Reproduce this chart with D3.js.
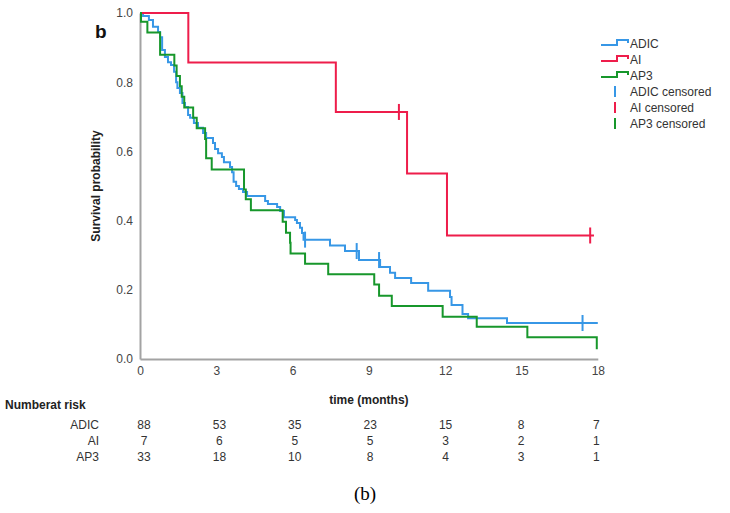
<!DOCTYPE html>
<html>
<head>
<meta charset="utf-8">
<script src="https://cdn.jsdelivr.net/npm/d3@7"></script>
<style>
  html, body { margin: 0; padding: 0; background: #fff; }
  svg { display: block; font-family: "Liberation Sans", Arial, sans-serif; }
</style>
</head>
<body>
<svg id="chart" width="730" height="513"></svg>
<script>
// ---------- data ----------
const groups = ["ADIC", "AI", "AP3"];
const groupColors = ["#3797e6", "#ee1d4b", "#17972b"];

// step points: [time (months), survival after the event]
const adicSteps = [[0,1],[0.12,0.991],[0.35,0.98],[0.51,0.96],[0.71,0.945],[0.79,0.93],[0.87,0.893],[0.98,0.873],
  [1.10,0.858],[1.22,0.85],[1.34,0.83],[1.42,0.80],[1.47,0.783],[1.57,0.769],[1.67,0.74],[1.77,0.728],[1.89,0.705],
  [1.97,0.697],[2.12,0.682],[2.28,0.668],[2.48,0.653],[2.60,0.639],[2.87,0.624],[2.95,0.607],[3.07,0.595],[3.22,0.584],
  [3.30,0.569],[3.54,0.555],[3.62,0.54],[3.68,0.512],[3.78,0.50],[3.89,0.491],[4.05,0.483],[4.21,0.471],[4.92,0.457],
  [5.03,0.448],[5.39,0.439],[5.51,0.428],[5.66,0.41],[6.10,0.402],[6.17,0.393],[6.29,0.379],[6.37,0.364],[6.43,0.345],
  [7.47,0.328],[8.06,0.312],[8.61,0.286],[9.44,0.266],[9.83,0.249],[10.03,0.234],[10.66,0.22],[11.33,0.197],
  [12.19,0.179],[12.25,0.156],[12.68,0.13],[12.9,0.118],[14.43,0.104],[18,0.104]];
const aiSteps = [[0,1],[1.9,0.857],[7.7,0.714],[10.5,0.536],[12.07,0.357],[17.85,0.357]];
const ap3Steps = [[0,1],[0.04,0.975],[0.29,0.944],[0.79,0.879],[1.35,0.848],[1.44,0.818],[1.57,0.788],[1.64,0.758],
  [1.74,0.727],[2.09,0.697],[2.23,0.667],[2.56,0.636],[2.60,0.58],[2.82,0.548],[4.09,0.49],[4.16,0.462],[4.36,0.43],
  [5.61,0.397],[5.74,0.365],[5.90,0.336],[5.92,0.305],[6.49,0.275],[7.40,0.245],[9.21,0.215],[9.40,0.183],[9.90,0.153],
  [11.9,0.122],[13.24,0.093],[15.23,0.063],[17.96,0.031],[18,0.031]];

// censored observations: [time, survival]
const adicCensored = [[6.49,0.345],[8.52,0.312],[9.40,0.286],[17.4,0.104]];
const aiCensored = [[10.18,0.714],[17.7,0.357]];
const ap3Censored = [];

const xTicks = [0,3,6,9,12,15,18];
const yTicks = [0,0.2,0.4,0.6,0.8,1.0];

const riskLabels = ["ADIC","AI","AP3"];
const riskADIC = [88,53,35,23,15,8,7];
const riskAI = [7,6,5,5,3,2,1];
const riskAP3 = [33,18,10,8,4,3,1];

const legendLabels = ["ADIC","AI","AP3","ADIC censored","AI censored","AP3 censored"];

// ---------- drawing ----------
const svg = d3.select("#chart");
const x = d3.scaleLinear().domain([0,18]).range([140, 597.8]);
const y = d3.scaleLinear().domain([0,1]).range([359, 13]);

const axisColor = "#a3a3a3";
const tickColor = "#444";

// axes
const yAxis = svg.append("g").attr("transform", `translate(${x(0)},0)`)
  .call(d3.axisLeft(y).tickValues(yTicks).tickSize(0).tickPadding(7).tickFormat(d3.format(".1f")));
const xAxis = svg.append("g").attr("transform", `translate(0,${y(0)})`)
  .call(d3.axisBottom(x).tickValues(xTicks).tickSize(0).tickPadding(7).tickFormat(d3.format("d")));
[yAxis, xAxis].forEach(g => {
  g.select(".domain").attr("stroke", axisColor).attr("stroke-width", 2);
  g.selectAll("text").attr("fill", tickColor).style("font-size", "12px")
    .style("font-family", "'Liberation Sans', Arial, sans-serif");
});

// axis titles
svg.append("text").attr("transform", `translate(100,${y(0.5)}) rotate(-90)`)
  .attr("text-anchor", "middle").attr("font-weight", "bold").attr("font-size", 12).attr("fill", "#222")
  .text("Survival probability");
svg.append("text").attr("x", x(9)).attr("y", 404).attr("text-anchor", "middle")
  .attr("font-weight", "bold").attr("font-size", 12).attr("fill", "#222").text("time (months)");

svg.append("text").attr("x", 95).attr("y", 38).attr("font-weight", "bold").attr("font-size", 19)
  .attr("fill", "#111").text("b");

// curves
const line = d3.line().x(d => x(d[0])).y(d => y(d[1])).curve(d3.curveStepAfter);
const stepSets = [adicSteps, aiSteps, ap3Steps];
const censSets = [adicCensored, aiCensored, ap3Censored];
stepSets.forEach((s, i) => {
  svg.append("path").datum(s).attr("d", line).attr("fill", "none")
    .attr("stroke", groupColors[i]).attr("stroke-width", 2).attr("stroke-linejoin", "miter");
});
censSets.forEach((c, i) => {
  svg.append("g").selectAll("line").data(c).join("line")
    .attr("x1", d => x(d[0])).attr("x2", d => x(d[0]))
    .attr("y1", d => y(d[1]) - 8).attr("y2", d => y(d[1]) + 8)
    .attr("stroke", groupColors[i]).attr("stroke-width", 2);
});

// legend
const lg = svg.append("g");
const legY0 = 43, legDy = 16;
legendLabels.forEach((lab, i) => {
  const cy = legY0 + i * legDy;
  const col = groupColors[i % 3];
  if (i < 3) {
    lg.append("path")
      .attr("d", `M601,${cy+2} H617 V${cy-3} H628 V${cy}`)
      .attr("fill", "none").attr("stroke", col).attr("stroke-width", 2);
  } else {
    lg.append("line").attr("x1", 615).attr("x2", 615).attr("y1", cy - 5).attr("y2", cy + 6)
      .attr("stroke", col).attr("stroke-width", 2);
  }
  lg.append("text").attr("x", 630).attr("y", cy + 4.5).attr("font-size", 12).attr("fill", "#333").text(lab);
});

// number at risk table
svg.append("text").attr("x", 5).attr("y", 409).attr("font-weight", "bold").attr("font-size", 12)
  .attr("fill", "#222").text("Numberat risk");
const riskRows = [riskADIC, riskAI, riskAP3];
const rowY = [429, 445, 461];
riskRows.forEach((row, r) => {
  svg.append("text").attr("x", 99).attr("y", rowY[r]).attr("text-anchor", "end")
    .attr("font-size", 12).attr("fill", "#333").text(riskLabels[r]);
  svg.append("g").selectAll("text").data(row).join("text")
    .attr("x", (d, k) => x(xTicks[k]) + 4 - k * 0.9).attr("y", rowY[r]).attr("text-anchor", "middle")
    .attr("font-size", 12).attr("fill", "#333").text(d => d);
});

// caption
svg.append("text").attr("x", 365).attr("y", 500).attr("text-anchor", "middle")
  .attr("font-family", "'Liberation Serif', 'Times New Roman', serif").attr("font-size", 19)
  .attr("fill", "#000").text("(b)");
</script>
</body>
</html>
